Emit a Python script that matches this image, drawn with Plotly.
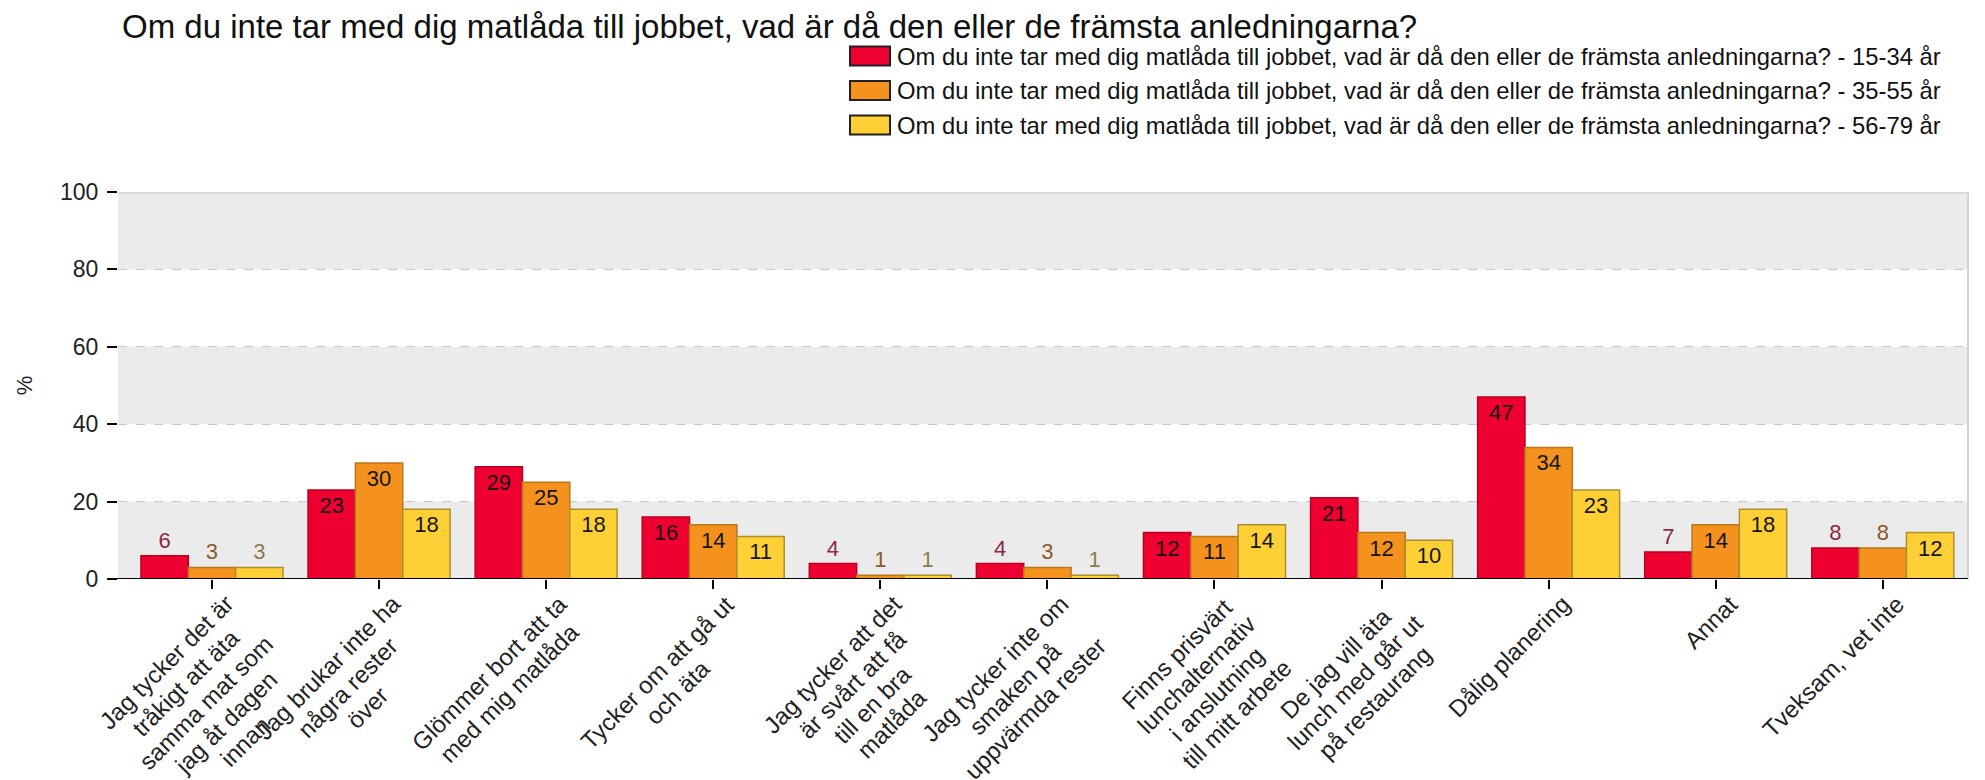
import math
import plotly.graph_objects as go

question = "Om du inte tar med dig matlåda till jobbet, vad är då den eller de främsta anledningarna?"

categories = [
    "Jag tycker det är tråkigt att äta samma mat som jag åt dagen innan",
    "Jag brukar inte ha några rester över",
    "Glömmer bort att ta med mig matlåda",
    "Tycker om att gå ut och äta",
    "Jag tycker att det är svårt att få till en bra matlåda",
    "Jag tycker inte om smaken på uppvärmda rester",
    "Finns prisvärt lunchalternativ i anslutning till mitt arbete",
    "De jag vill äta lunch med går ut på restaurang",
    "Dålig planering",
    "Annat",
    "Tveksam, vet inte",
]
category_lines = [
    ["Jag tycker det är", "tråkigt att äta", "samma mat som", "jag åt dagen", "innan"],
    ["Jag brukar inte ha", "några rester", "över"],
    ["Glömmer bort att ta", "med mig matlåda"],
    ["Tycker om att gå ut", "och äta"],
    ["Jag tycker att det", "är svårt att få", "till en bra", "matlåda"],
    ["Jag tycker inte om", "smaken på", "uppvärmda rester"],
    ["Finns prisvärt", "lunchalternativ", "i anslutning", "till mitt arbete"],
    ["De jag vill äta", "lunch med går ut", "på restaurang"],
    ["Dålig planering"],
    ["Annat"],
    ["Tveksam, vet inte"],
]
groups = ["15-34 år", "35-55 år", "56-79 år"]
values_15_34 = [6, 23, 29, 16, 4, 4, 12, 21, 47, 7, 8]
values_35_55 = [3, 30, 25, 14, 1, 3, 11, 12, 34, 14, 8]
values_56_79 = [3, 18, 18, 11, 1, 1, 14, 10, 23, 18, 12]
series = [values_15_34, values_35_55, values_56_79]
y_ticks = [0, 20, 40, 60, 80, 100]

fill_colors = ["#EE0030", "#F5921E", "#FFD035"]
line_colors = ["#B8001F", "#B8781C", "#A8902E"]
outside_text_colors = ["#8B2A40", "#8A5A2A", "#8C7D4E"]
inside_text_color = "#151515"

FONT = "Liberation Sans, Arial, Helvetica, sans-serif"
LBL_FS = 24
LS = 28

# Arial / Liberation Sans advance widths (per 1000 em)
AW = {' ': 278, ',': 278, 'a': 556, 'b': 556, 'c': 500, 'd': 556, 'e': 556, 'f': 278,
      'g': 556, 'h': 556, 'i': 222, 'j': 222, 'k': 500, 'l': 222, 'm': 833, 'n': 556,
      'o': 556, 'p': 556, 'q': 556, 'r': 333, 's': 500, 't': 278, 'u': 556, 'v': 500,
      'w': 722, 'x': 500, 'y': 500, 'z': 500, 'å': 556, 'ä': 556, 'ö': 556,
      'J': 500, 'G': 778, 'T': 611, 'F': 611, 'D': 722, 'A': 667}


def text_w(s, fs):
    return sum(AW.get(ch, 556) for ch in s) / 1000.0 * fs


# page has an 8px body margin; figure sized to fill the window
OFF = 8
W_FIG, H_FIG = 1985 - OFF, 780 - OFF
L, R, T, B = 110, 17, 184, 201
PW = W_FIG - L - R
PH = H_FIG - T - B


def px(xp):
    return (xp - OFF - L) / PW


def py(yp):
    return (H_FIG - B - (yp - OFF)) / PH


fig = go.Figure()
for k in range(3):
    vals = series[k]
    pos = ["inside" if v >= 10 else "outside" for v in vals]
    tcol = [inside_text_color if v >= 10 else outside_text_colors[k] for v in vals]
    fig.add_trace(go.Bar(
        x=categories, y=vals, name=question + " - " + groups[k],
        text=[str(v) for v in vals], textposition=pos,
        insidetextanchor="end", textangle=0, constraintext="none",
        textfont=dict(family=FONT, size=22, color=tcol),
        marker=dict(color=fill_colors[k], line=dict(color=line_colors[k], width=1.5)),
        cliponaxis=False, showlegend=False,
    ))

shapes = []
for y0, y1 in [(0, 20), (40, 60), (80, 100)]:
    shapes.append(dict(type="rect", xref="paper", yref="y", x0=0, x1=1, y0=y0, y1=y1,
                       fillcolor="#EBEBEB", line=dict(width=0), layer="below"))
shapes.append(dict(type="line", xref="paper", yref="y", x0=0, x1=1, y0=100, y1=100,
                   line=dict(color="#D4D4D4", width=3), layer="below"))
shapes.append(dict(type="line", xref="paper", yref="y", x0=1, x1=1, y0=0, y1=100,
                   line=dict(color="#D4D4D4", width=2), layer="below"))
shapes.append(dict(type="line", xref="paper", yref="y", x0=-10 / PW, x1=1, y0=0, y1=0,
                   line=dict(color="#000000", width=2), layer="above"))

annotations = []
# rotated, centered multi-line category labels; block's top-right corner near the tick
DX, DY = 7, 11
c45 = math.cos(math.radians(45))
for cat, lines in zip(categories, category_lines):
    n = len(lines)
    wt = max(text_w(s, LBL_FS) for s in lines)
    ht = n * LS
    bcx = DX + 0.5 * c45 * (ht - wt)
    bcy = DY + 0.5 * c45 * (wt + ht)
    for i, s in enumerate(lines):
        off = (i + 0.5) * LS - ht / 2.0
        lcx = bcx + off * c45
        lcy = bcy + off * c45
        annotations.append(dict(
            x=cat, y=0, xref="x", yref="y", text=s, showarrow=False,
            textangle=-45, xanchor="center", yanchor="middle",
            xshift=lcx, yshift=-lcy, font=dict(family=FONT, size=LBL_FS, color="#222222"),
        ))

# legend drawn as swatches + text
for k in range(3):
    cy_px = 56 + 34.5 * k
    shapes.append(dict(type="rect", xref="paper", yref="paper",
                       x0=px(850), x1=px(890),
                       y0=py(cy_px + 9.5), y1=py(cy_px - 9.5),
                       fillcolor=fill_colors[k], line=dict(color="#222222", width=2)))
    annotations.append(dict(
        x=px(895), y=py(cy_px), xref="paper", yref="paper",
        xanchor="left", yanchor="middle", showarrow=False,
        text=question + " - " + groups[k],
        font=dict(family=FONT, size=23.8, color="#111111"),
    ))

fig.update_layout(
    width=W_FIG, height=H_FIG,
    margin=dict(l=L, r=R, t=T, b=B, autoexpand=False),
    paper_bgcolor="white", plot_bgcolor="white",
    barmode="group", bargap=0.15, bargroupgap=0,
    title=dict(text=question, x=(122 - OFF) / W_FIG, xanchor="left", xref="container",
               y=1 - (26 - OFF) / H_FIG, yanchor="middle", yref="container",
               font=dict(family=FONT, size=33, color="#111111")),
    font=dict(family=FONT, color="#222222"),
    shapes=shapes, annotations=annotations,
)
fig.update_xaxes(
    type="category", range=[-0.5625, 10.51], showticklabels=False,
    ticks="outside", ticklen=9, tickwidth=2, tickcolor="#000000",
    showgrid=False, showline=False, zeroline=False, fixedrange=True,
)
fig.update_yaxes(
    range=[0, 100], tickvals=y_ticks,
    ticks="outside", ticklen=10, tickwidth=2, tickcolor="#000000",
    ticklabelstandoff=4,
    tickfont=dict(family=FONT, size=23, color="#222222"),
    showgrid=True, gridcolor="#C8C8C8", griddash="dash", gridwidth=1,
    zeroline=False, showline=False,
    title=dict(text="%", standoff=21, font=dict(family=FONT, size=22, color="#222222")),
)

fig.write_html("out.html")
